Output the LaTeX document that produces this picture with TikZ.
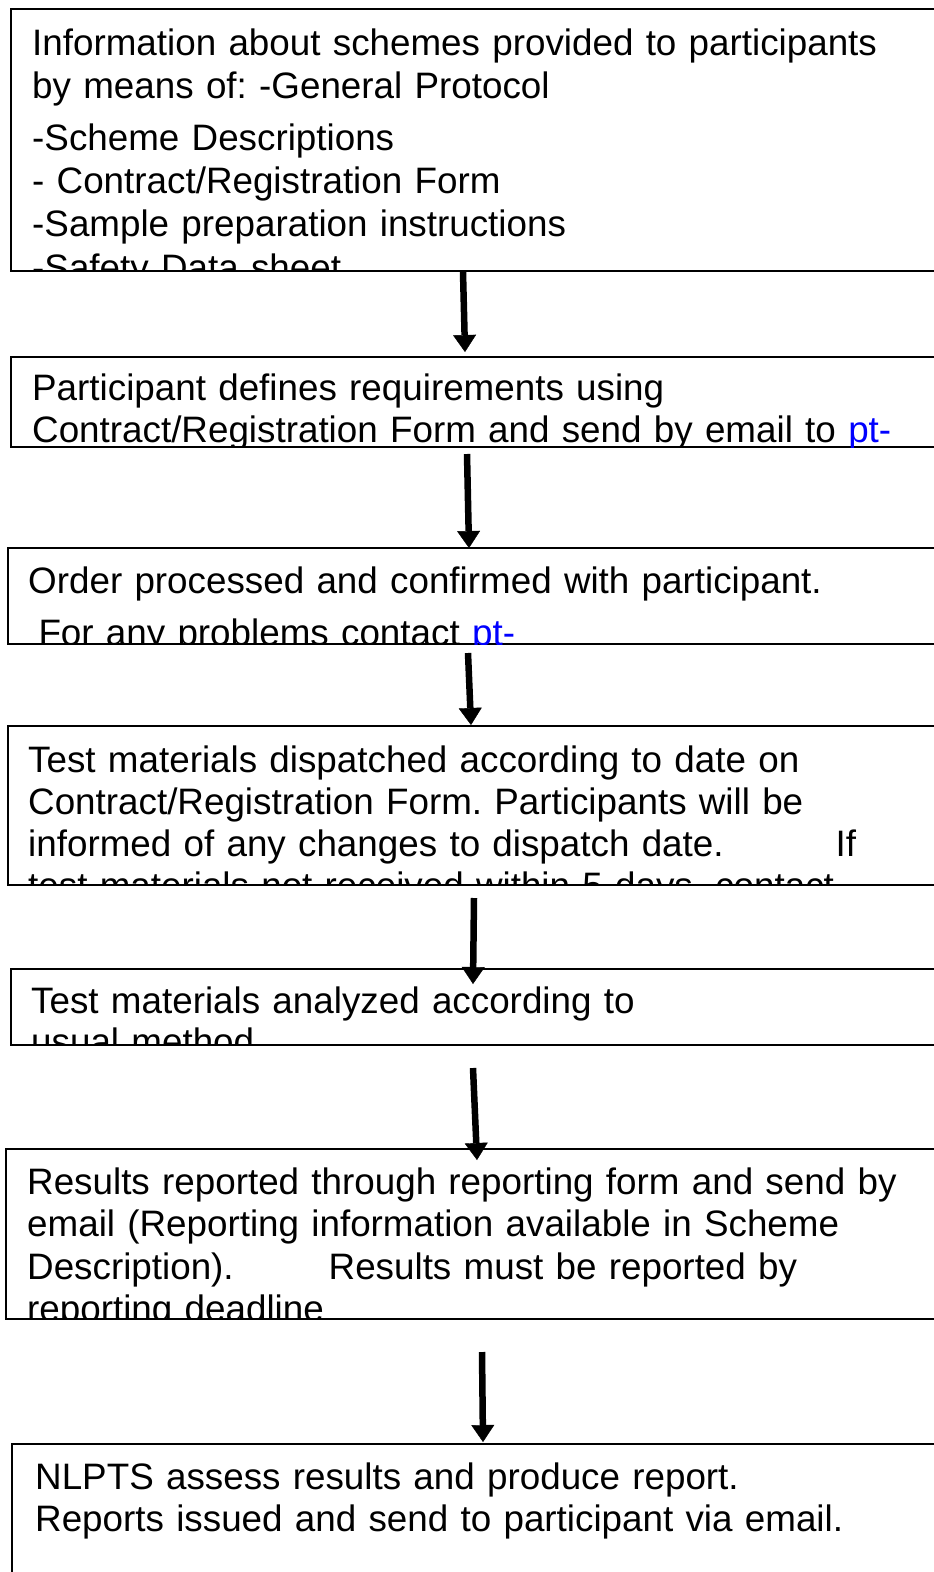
\documentclass[tikz,border=0pt]{standalone}
\usepackage{fontspec}
\setmainfont{Liberation Sans}
\usetikzlibrary{arrows.meta}
\definecolor{linkblue}{RGB}{0,0,255}
\begin{document}
\begin{tikzpicture}[x=1pt,y=-1pt,
	box/.style={draw=black,line width=1.8pt,inner sep=0pt,anchor=north west,minimum width=1000pt},
	txt/.style={anchor=base west,inner sep=0pt,text width=930pt,align=left,font=\fontsize{36.8pt}{42.5pt}\selectfont\frenchspacing},
	flow/.style={line width=6.5pt,-{Triangle[width=23pt,length=17pt,line width=0.4pt]}}]
	\clip (0,0) rectangle (934,1572);
	\fill [white] (0,0) rectangle (934,1572);
	
	\node [box,minimum height=262pt] (info) at (10,8) {};
	\begin{scope}
		\clip (info.north west) rectangle (info.south east);
		\node [txt] (infotext) at (32,55) {Information about schemes provided to participants\\[0.5pt]
			by means of: -General Protocol\\[9.5pt]
			-Scheme Descriptions\\[0.5pt]
			- Contract/Registration Form\\[0.5pt]
			-Sample preparation instructions\\[1.5pt]
			-Safety Data sheet};
	\end{scope}
	
	\node [box,minimum height=90pt] (define) at (10,356) {};
	\begin{scope}
		\clip (define.north west) rectangle (define.south east);
		\node [txt] (definetext) at (32,400) {Participant defines requirements using\\
			Contract/Registration Form and send by email to \textcolor{linkblue}{pt-}};
	\end{scope}
	
	\node [box,minimum height=96pt] (order) at (7,547) {};
	\begin{scope}
		\clip (order.north west) rectangle (order.south east);
		\node [txt] (ordertext) at (28,593) {Order processed and confirmed with participant.\\[10pt]
			\hspace*{10.3pt}For any problems contact \textcolor{linkblue}{pt-}};
	\end{scope}
	
	\node [box,minimum height=159pt] (dispatch) at (7,725) {};
	\begin{scope}
		\clip (dispatch.north west) rectangle (dispatch.south east);
		\node [txt] (dispatchtext) at (28,772) {Test materials dispatched according to date on\\
			Contract/Registration Form. Participants will be\\[-1pt]
			informed of any changes to dispatch date.\hspace{112pt}If\\
			test materials not received within 5 days, contact};
	\end{scope}
	
	\node [box,minimum height=76pt] (analyze) at (10,968) {};
	\begin{scope}
		\clip (analyze.north west) rectangle (analyze.south east);
		\node [txt] (analyzetext) at (31,1013) {Test materials analyzed according to\\[-1.5pt]
			usual method};
	\end{scope}
	
	\node [box,minimum height=170pt] (report) at (5,1148) {};
	\begin{scope}
		\clip (report.north west) rectangle (report.south east);
		\node [txt] (reporttext) at (27,1194) {Results reported through reporting form and send by\\
			email (Reporting information available in Scheme\\
			Description).\hspace{95pt}Results must be reported by\\
			reporting deadline};
	\end{scope}
	
	\node [box,minimum height=200pt] (assess) at (11,1443) {};
	\node [txt] (assesstext) at (35,1489) {NLPTS assess results and produce report.\\
		Reports issued and send to participant via email.};
	
	\coordinate (s1) at (463,272);
	\coordinate (e1) at (465,352);
	\coordinate (s2) at (467,454);
	\coordinate (e2) at (469,548);
	\coordinate (s3) at (468,653);
	\coordinate (e3) at (471,725);
	\coordinate (s4) at (474,898);
	\coordinate (e4) at (473,984);
	\coordinate (s5) at (473,1068);
	\coordinate (e5) at (477,1160);
	\coordinate (s6) at (482,1352);
	\coordinate (e6) at (483,1442);
	\draw [flow] (s1) -- (e1);
	\draw [flow] (s2) -- (e2);
	\draw [flow] (s3) -- (e3);
	\draw [flow] (s4) -- (e4);
	\draw [flow] (s5) -- (e5);
	\draw [flow] (s6) -- (e6);
\end{tikzpicture}
\end{document}
